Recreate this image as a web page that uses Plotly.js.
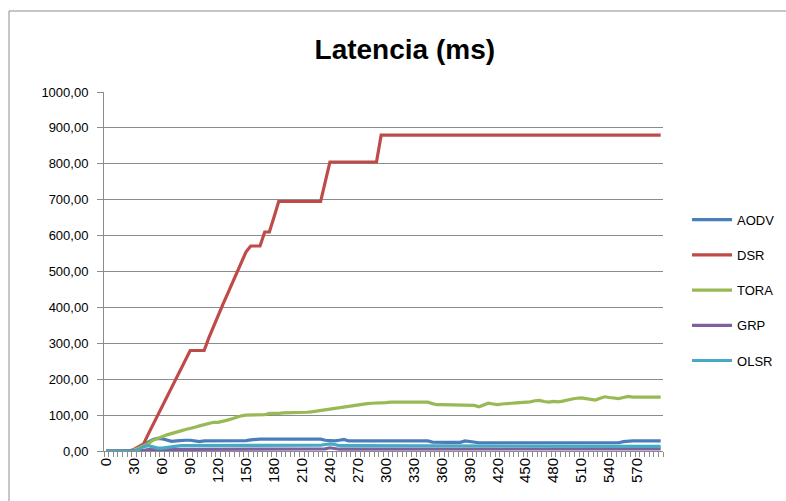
<!DOCTYPE html>
<html>
<head>
<meta charset="utf-8">
<script src="https://cdn.plot.ly/plotly-3.0.1.min.js"></script>
<style>
html,body{margin:0;padding:0;background:#fff;}
#chart{width:786px;height:501px;}
</style>
</head>
<body>
<div id="chart"></div>
<script>
// Categories (time, every 5 units)
const categories = [0,5,10,15,20,25,30,35,40,45,50,55,60,65,70,75,80,85,90,95,
100,105,110,115,120,125,130,135,140,145,150,155,160,165,170,175,180,185,190,195,
200,205,210,215,220,225,230,235,240,245,250,255,260,265,270,275,280,285,290,295,
300,305,310,315,320,325,330,335,340,345,350,355,360,365,370,375,380,385,390,395,
400,405,410,415,420,425,430,435,440,445,450,455,460,465,470,475,480,485,490,495,
500,505,510,515,520,525,530,535,540,545,550,555,560,565,570,575,580,585,590,595];

const xTickLabels = [0,30,60,90,120,150,180,210,240,270,300,330,360,390,420,450,480,510,540,570];
const yTickValues = [0,100,200,300,400,500,600,700,800,900,1000];
const yTickLabels = ['0,00','100,00','200,00','300,00','400,00','500,00','600,00','700,00','800,00','900,00','1000,00'];

const AODV = [0,0,0,0,0,0,0,5,15,25,32,35,34,30,27,28,30,30,30,28,
26,28,28,28,28,28,28,28,28,29,29,31,33,33,33,33,33,33,33,33,
33,33,33,33,33,33,33,30,28,28,30,32,28,28,28,28,28,28,28,28,
28,28,28,28,28,28,28,28,28,28,25,24,24,24,24,24,24,28,26,23,
23,23,23,23,23,23,23,23,23,23,23,23,23,23,23,23,23,23,23,23,
23,23,23,23,23,23,23,23,23,23,23,26,28,28,28,28,28,28,28,28];

const DSR = [0,0,0,0,0,0,5,12,20,47,73,99,125,151,177,203,229,255,280,280,
280,280,315,347,378,408,437,466,496,525,555,571,571,571,610,610,652,695,695,695,
695,695,695,695,695,695,695,750,805,805,805,805,805,805,805,805,805,805,805,880,
880,880,880,880,880,880,880,880,880,880,880,880,880,880,880,880,880,880,880,880,
880,880,880,880,880,880,880,880,880,880,880,880,880,880,880,880,880,880,880,880,
880,880,880,880,880,880,880,880,880,880,880,880,880,880,880,880,880,880,880,880];

const TORA = [0,0,0,0,0,0,3,8,14,20,30,36,40,45,48,52,56,60,62,66,
70,74,78,80,80,82,86,90,95,98,100,100,100,100,101,105,104,105,106,106,
106,107,108,108,109,111,113,114,116,119,121,124,125,127,129,131,132,133,133,134,
135,136,136,136,136,136,136,136,136,136,132,129,129,129,129,129,129,129,129,127,
123,128,133,131,129,131,133,133,134,135,135,137,140,141,138,136,138,137,139,143,
145,147,148,146,143,142,147,151,149,147,146,149,152,150,150,150,150,150,150,150];

const GRP = [0,0,0,0,0,0,0,0,2,4,4,4,4,4,4,4,4,4,4,4,
4,4,4,4,4,4,4,4,4,4,4,4,4,4,4,4,4,4,4,4,
4,4,5,5,5,5,6,6,9,6,5,5,5,5,5,5,5,5,5,5,
5,5,5,5,5,5,5,5,5,5,5,5,5,5,5,5,5,5,5,6,
6,6,6,6,6,6,6,6,6,6,6,6,6,6,6,6,6,6,6,6,
6,6,6,6,6,6,6,6,6,6,6,6,6,6,6,6,6,6,6,6];

const OLSR = [0,0,0,0,0,0,0,5,12,15,12,8,8,10,12,13,15,15,15,15,
15,15,15,15,15,15,15,15,15,15,15,15,15,15,15,15,15,15,15,15,
15,15,15,15,15,15,16,18,20,18,15,15,15,15,15,15,15,15,15,15,
15,15,15,15,15,15,15,15,15,15,15,13,13,13,13,13,13,13,13,13,
13,13,13,13,13,13,13,13,13,13,13,13,13,13,13,13,13,13,13,13,
13,13,13,13,13,13,13,13,13,13,13,13,13,13,13,13,13,13,13,13];

const seriesNames = ['AODV','DSR','TORA','GRP','OLSR'];
const seriesData = [AODV, DSR, TORA, GRP, OLSR];
const seriesColors = ['#4A7EBB','#BE4B48','#98B954','#7D60A0','#46AAC5'];

const traces = seriesNames.map((n,i)=>({
  type:'scatter', mode:'lines', name:n, x:categories, y:seriesData[i],
  legendgroup:n,
  line:{color:seriesColors[i], width:3.2}
}));

const gridCol = '#8c8c8c';
const W = 786, H = 501, ML = 104, MR = 123, MT = 92, MB = 50;
const pw = W - ML - MR, ph = H - MT - MB;
const layout = {
  width:W, height:H,
  margin:{l:ML, r:MR, t:MT, b:MB, autoexpand:false},
  paper_bgcolor:'#fff', plot_bgcolor:'#fff',
  font:{family:'Liberation Sans, Arial, sans-serif', size:12, color:'#000'},
  title:{text:'<b>Latencia (ms)</b>', xref:'container', yref:'container', x:0.515, y:0.902,
         xanchor:'center', yanchor:'middle',
         font:{family:'Liberation Sans, Arial, sans-serif', size:28, color:'#000'}},
  showlegend:true,
  legend:{x:1.043, xanchor:'left', y:0.686, yanchor:'top', tracegroupgap:15.3,
          font:{size:13, color:'#000'}, itemwidth:40, bgcolor:'rgba(0,0,0,0)'},
  shapes:[{type:'rect', xref:'paper', yref:'paper',
           x0:(9-ML)/pw, x1:(W+20-ML)/pw, y0:(H-MB-(H+20))/ph, y1:(H-MB-11)/ph,
           line:{color:'#8c8c8c', width:1}, fillcolor:'rgba(0,0,0,0)', layer:'below'}],
  xaxis:{
    range:[-2.5, 597.5], tickmode:'array', tickvals:xTickLabels, ticktext:xTickLabels.map(String),
    tickangle:-90, ticks:'', showgrid:false, zeroline:false,
    showline:true, linecolor:gridCol, linewidth:1,
    tickfont:{size:15, color:'#000'},
    minor:{ticks:'outside', ticklen:5, tickcolor:gridCol, tickwidth:1, tickmode:'linear', tick0:-2.5, dtick:5, showgrid:false}
  },
  yaxis:{
    range:[0,1000], tickmode:'array', tickvals:yTickValues, ticktext:yTickLabels,
    ticks:'outside', ticklen:6, tickcolor:gridCol, ticklabelstandoff:6,
    showgrid:true, gridcolor:gridCol, gridwidth:1, zeroline:false,
    showline:true, linecolor:gridCol, linewidth:1,
    tickfont:{size:13, color:'#000'}
  }
};
Plotly.newPlot('chart', traces, layout, {displayModeBar:false, staticPlot:true});
</script>
</body>
</html>
